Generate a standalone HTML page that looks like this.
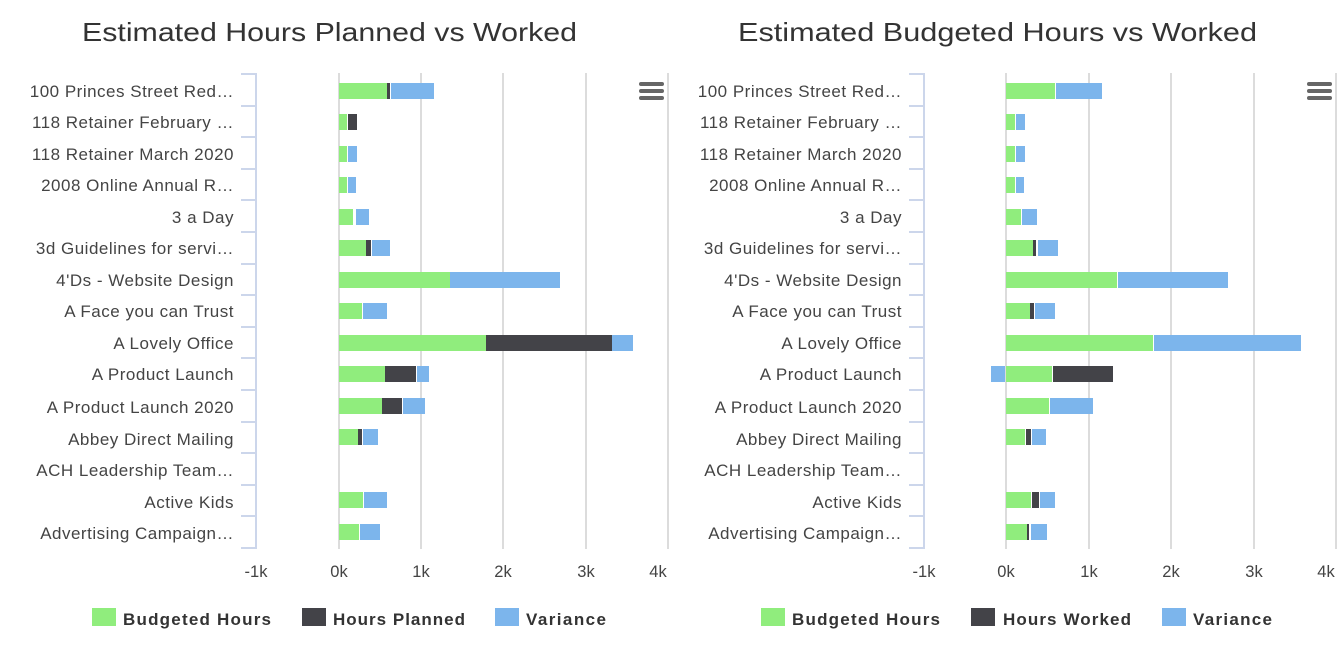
<!DOCTYPE html>
<html><head><meta charset="utf-8"><style>
body{margin:0;background:#fff;width:1341px;height:642px;overflow:hidden}
svg text{font-family:"Liberation Sans",sans-serif}
</style></head><body>
<svg width="1341" height="642" xmlns="http://www.w3.org/2000/svg">
<g id="L">
<text x="82" y="41" font-size="26" fill="#333" textLength="495" lengthAdjust="spacingAndGlyphs">Estimated Hours Planned vs Worked</text>
<g stroke="#dcdcdc" stroke-width="2"><line x1="339" y1="73" x2="339" y2="549"/><line x1="421" y1="73" x2="421" y2="549"/><line x1="503" y1="73" x2="503" y2="549"/><line x1="586" y1="73" x2="586" y2="549"/><line x1="668" y1="73" x2="668" y2="549"/></g>
<g stroke="#ccd6eb" stroke-width="2"><line x1="256" y1="73" x2="256" y2="549"/>
<line x1="241" y1="74" x2="256" y2="74"/><line x1="241" y1="106" x2="256" y2="106"/><line x1="241" y1="137" x2="256" y2="137"/><line x1="241" y1="169" x2="256" y2="169"/><line x1="241" y1="200" x2="256" y2="200"/><line x1="241" y1="232" x2="256" y2="232"/><line x1="241" y1="264" x2="256" y2="264"/><line x1="241" y1="295" x2="256" y2="295"/><line x1="241" y1="327" x2="256" y2="327"/><line x1="241" y1="358" x2="256" y2="358"/><line x1="241" y1="390" x2="256" y2="390"/><line x1="241" y1="422" x2="256" y2="422"/><line x1="241" y1="453" x2="256" y2="453"/><line x1="241" y1="485" x2="256" y2="485"/><line x1="241" y1="516" x2="256" y2="516"/><line x1="241" y1="548" x2="256" y2="548"/></g>
<g font-size="17" letter-spacing="0.5" fill="#444" text-anchor="end">
<text x="234" y="97">100 Princes Street Red…</text><text x="234" y="128">118 Retainer February …</text><text x="234" y="160">118 Retainer March 2020</text><text x="234" y="191">2008 Online Annual R…</text><text x="234" y="223">3 a Day</text><text x="234" y="254">3d Guidelines for servi…</text><text x="234" y="286">4'Ds - Website Design</text><text x="234" y="317">A Face you can Trust</text><text x="234" y="349">A Lovely Office</text><text x="234" y="380">A Product Launch</text><text x="234" y="413">A Product Launch 2020</text><text x="234" y="445">Abbey Direct Mailing</text><text x="234" y="476">ACH Leadership Team…</text><text x="234" y="508">Active Kids</text><text x="234" y="539">Advertising Campaign…</text></g>
<g font-size="16.5" fill="#444" text-anchor="middle"><text x="256" y="577">-1k</text><text x="339" y="577">0k</text><text x="421" y="577">1k</text><text x="503" y="577">2k</text><text x="586" y="577">3k</text><text x="658" y="577">4k</text></g>
<g>
<rect x="339" y="83" width="48" height="16" fill="#90ed7d"/><rect x="387" y="83" width="3" height="16" fill="#434348"/><rect x="391" y="83" width="43" height="16" fill="#7cb5ec"/>
<rect x="339" y="114" width="8" height="16" fill="#90ed7d"/><rect x="348" y="114" width="9" height="16" fill="#434348"/>
<rect x="339" y="146" width="8" height="16" fill="#90ed7d"/><rect x="348" y="146" width="9" height="16" fill="#7cb5ec"/>
<rect x="339" y="177" width="8" height="16" fill="#90ed7d"/><rect x="348" y="177" width="8" height="16" fill="#7cb5ec"/>
<rect x="339" y="209" width="14" height="16" fill="#90ed7d"/><rect x="356" y="209" width="13" height="16" fill="#7cb5ec"/>
<rect x="339" y="240" width="27" height="16" fill="#90ed7d"/><rect x="366" y="240" width="5" height="16" fill="#434348"/><rect x="372" y="240" width="18" height="16" fill="#7cb5ec"/>
<rect x="339" y="272" width="111" height="16" fill="#90ed7d"/><rect x="450" y="272" width="110" height="16" fill="#7cb5ec"/>
<rect x="339" y="303" width="23" height="16" fill="#90ed7d"/><rect x="363" y="303" width="24" height="16" fill="#7cb5ec"/>
<rect x="339" y="335" width="147" height="16" fill="#90ed7d"/><rect x="486" y="335" width="126" height="16" fill="#434348"/><rect x="612" y="335" width="21" height="16" fill="#7cb5ec"/>
<rect x="339" y="366" width="46" height="16" fill="#90ed7d"/><rect x="385" y="366" width="31" height="16" fill="#434348"/><rect x="417" y="366" width="12" height="16" fill="#7cb5ec"/>
<rect x="339" y="398" width="43" height="16" fill="#90ed7d"/><rect x="382" y="398" width="20" height="16" fill="#434348"/><rect x="403" y="398" width="22" height="16" fill="#7cb5ec"/>
<rect x="339" y="429" width="19" height="16" fill="#90ed7d"/><rect x="358" y="429" width="4" height="16" fill="#434348"/><rect x="363" y="429" width="15" height="16" fill="#7cb5ec"/>
<rect x="339" y="492" width="24" height="16" fill="#90ed7d"/><rect x="364" y="492" width="23" height="16" fill="#7cb5ec"/>
<rect x="339" y="524" width="20" height="16" fill="#90ed7d"/><rect x="360" y="524" width="20" height="16" fill="#7cb5ec"/>
</g>
<g fill="#666"><rect x="639" y="82" width="25" height="4" rx="2"/><rect x="639" y="89" width="25" height="4" rx="2"/><rect x="639" y="96" width="25" height="4" rx="2"/></g>
<g font-size="17" font-weight="bold" fill="#333">
<rect x="92" y="608" width="24" height="18" fill="#90ed7d"/><text x="123" y="625" textLength="148">Budgeted Hours</text>
<rect x="302" y="608" width="24" height="18" fill="#434348"/><text x="333" y="625" textLength="132">Hours Planned</text>
<rect x="495" y="608" width="24" height="18" fill="#7cb5ec"/><text x="526" y="625" textLength="80">Variance</text></g>
</g>
<g id="R">
<text x="738" y="41" font-size="26" fill="#333" textLength="519" lengthAdjust="spacingAndGlyphs">Estimated Budgeted Hours vs Worked</text>
<g stroke="#dcdcdc" stroke-width="2"><line x1="1006" y1="73" x2="1006" y2="549"/><line x1="1089" y1="73" x2="1089" y2="549"/><line x1="1171" y1="73" x2="1171" y2="549"/><line x1="1254" y1="73" x2="1254" y2="549"/><line x1="1336" y1="73" x2="1336" y2="549"/></g>
<g stroke="#ccd6eb" stroke-width="2"><line x1="924" y1="73" x2="924" y2="549"/>
<line x1="909" y1="74" x2="924" y2="74"/><line x1="909" y1="106" x2="924" y2="106"/><line x1="909" y1="137" x2="924" y2="137"/><line x1="909" y1="169" x2="924" y2="169"/><line x1="909" y1="200" x2="924" y2="200"/><line x1="909" y1="232" x2="924" y2="232"/><line x1="909" y1="264" x2="924" y2="264"/><line x1="909" y1="295" x2="924" y2="295"/><line x1="909" y1="327" x2="924" y2="327"/><line x1="909" y1="358" x2="924" y2="358"/><line x1="909" y1="390" x2="924" y2="390"/><line x1="909" y1="422" x2="924" y2="422"/><line x1="909" y1="453" x2="924" y2="453"/><line x1="909" y1="485" x2="924" y2="485"/><line x1="909" y1="516" x2="924" y2="516"/><line x1="909" y1="548" x2="924" y2="548"/></g>
<g font-size="17" letter-spacing="0.5" fill="#444" text-anchor="end">
<text x="902" y="97">100 Princes Street Red…</text><text x="902" y="128">118 Retainer February …</text><text x="902" y="160">118 Retainer March 2020</text><text x="902" y="191">2008 Online Annual R…</text><text x="902" y="223">3 a Day</text><text x="902" y="254">3d Guidelines for servi…</text><text x="902" y="286">4'Ds - Website Design</text><text x="902" y="317">A Face you can Trust</text><text x="902" y="349">A Lovely Office</text><text x="902" y="380">A Product Launch</text><text x="902" y="413">A Product Launch 2020</text><text x="902" y="445">Abbey Direct Mailing</text><text x="902" y="476">ACH Leadership Team…</text><text x="902" y="508">Active Kids</text><text x="902" y="539">Advertising Campaign…</text></g>
<g font-size="16.5" fill="#444" text-anchor="middle"><text x="924" y="577">-1k</text><text x="1006" y="577">0k</text><text x="1089" y="577">1k</text><text x="1171" y="577">2k</text><text x="1254" y="577">3k</text><text x="1326" y="577">4k</text></g>
<g>
<rect x="1006" y="83" width="49" height="16" fill="#90ed7d"/><rect x="1056" y="83" width="46" height="16" fill="#7cb5ec"/>
<rect x="1006" y="114" width="9" height="16" fill="#90ed7d"/><rect x="1016" y="114" width="9" height="16" fill="#7cb5ec"/>
<rect x="1006" y="146" width="9" height="16" fill="#90ed7d"/><rect x="1016" y="146" width="9" height="16" fill="#7cb5ec"/>
<rect x="1006" y="177" width="9" height="16" fill="#90ed7d"/><rect x="1016" y="177" width="8" height="16" fill="#7cb5ec"/>
<rect x="1006" y="209" width="15" height="16" fill="#90ed7d"/><rect x="1022" y="209" width="15" height="16" fill="#7cb5ec"/>
<rect x="1006" y="240" width="27" height="16" fill="#90ed7d"/><rect x="1033" y="240" width="3" height="16" fill="#434348"/><rect x="1038" y="240" width="20" height="16" fill="#7cb5ec"/>
<rect x="1006" y="272" width="111" height="16" fill="#90ed7d"/><rect x="1118" y="272" width="110" height="16" fill="#7cb5ec"/>
<rect x="1006" y="303" width="24" height="16" fill="#90ed7d"/><rect x="1030" y="303" width="4" height="16" fill="#434348"/><rect x="1035" y="303" width="20" height="16" fill="#7cb5ec"/>
<rect x="1006" y="335" width="147" height="16" fill="#90ed7d"/><rect x="1154" y="335" width="147" height="16" fill="#7cb5ec"/>
<rect x="991" y="366" width="14" height="16" fill="#7cb5ec"/><rect x="1006" y="366" width="46" height="16" fill="#90ed7d"/><rect x="1053" y="366" width="60" height="16" fill="#434348"/>
<rect x="1006" y="398" width="43" height="16" fill="#90ed7d"/><rect x="1050" y="398" width="43" height="16" fill="#7cb5ec"/>
<rect x="1006" y="429" width="19" height="16" fill="#90ed7d"/><rect x="1026" y="429" width="5" height="16" fill="#434348"/><rect x="1032" y="429" width="14" height="16" fill="#7cb5ec"/>
<rect x="1006" y="492" width="25" height="16" fill="#90ed7d"/><rect x="1032" y="492" width="7" height="16" fill="#434348"/><rect x="1040" y="492" width="15" height="16" fill="#7cb5ec"/>
<rect x="1006" y="524" width="21" height="16" fill="#90ed7d"/><rect x="1027" y="524" width="2" height="16" fill="#434348"/><rect x="1031" y="524" width="16" height="16" fill="#7cb5ec"/>
</g>
<g fill="#666"><rect x="1307" y="82" width="25" height="4" rx="2"/><rect x="1307" y="89" width="25" height="4" rx="2"/><rect x="1307" y="96" width="25" height="4" rx="2"/></g>
<g font-size="17" font-weight="bold" fill="#333">
<rect x="761" y="608" width="24" height="18" fill="#90ed7d"/><text x="792" y="625" textLength="148">Budgeted Hours</text>
<rect x="971" y="608" width="24" height="18" fill="#434348"/><text x="1003" y="625" textLength="128">Hours Worked</text>
<rect x="1162" y="608" width="24" height="18" fill="#7cb5ec"/><text x="1193" y="625" textLength="79">Variance</text></g>
</g>
</svg>
</body></html>
